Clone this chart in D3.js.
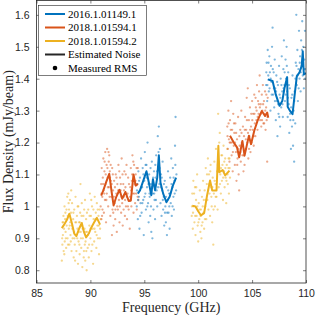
<!DOCTYPE html>
<html>
<head>
<meta charset="utf-8">
<script src="https://cdn.jsdelivr.net/npm/d3@7"></script>
<style>
  body { margin: 0; background: #fff; }
  svg { display: block; }
</style>
</head>
<body>
<div id="chart"></div>
<script>
// ticks
const xTicks = [85, 90, 95, 100, 105, 110];
const yTicks = [0.8, 0.9, 1, 1.1, 1.2, 1.3, 1.4, 1.5, 1.6];
const xTickLabels = ["85", "90", "95", "100", "105", "110"];
const yTickLabels = ["0.8", "0.9", "1", "1.1", "1.2", "1.3", "1.4", "1.5", "1.6"];

const legendNames = ["2016.1.01149.1", "2018.1.01594.1", "2018.1.01594.2"];

// estimated noise lines [GHz, mJy/beam]
const yellowLine1 = [[87.35,0.932],[87.6,0.945],[87.85,0.96],[88.05,0.977],[88.3,0.945],[88.5,0.915],[88.7,0.907],[88.95,0.93],[89.2,0.948],[89.4,0.92],[89.6,0.903],[89.85,0.915],[90.1,0.935],[90.35,0.95],[90.6,0.964],[90.9,0.943]];
const orangeLine1 = [[91.0,1.034],[91.2,1.05],[91.45,1.075],[91.75,1.102],[91.95,1.05],[92.15,1.003],[92.4,1.03],[92.7,1.052],[92.95,1.024],[93.25,1.045],[93.55,1.017],[93.75,1.018],[94.0,1.10],[94.2,1.065],[94.4,1.07]];
const blueLine1 = [[94.4,1.04],[94.6,1.05],[94.9,1.08],[95.2,1.11],[95.45,1.07],[95.65,1.035],[95.8,1.085],[96.0,1.05],[96.2,1.09],[96.35,1.16],[96.5,1.075],[96.75,1.04],[97.05,1.013],[97.35,1.03],[97.65,1.065],[97.95,1.09]];
const yellowLine2 = [[99.45,1.002],[99.75,1.0],[100.0,0.985],[100.25,0.972],[100.55,0.979],[100.8,1.03],[101.1,1.081],[101.3,1.05],[101.7,1.05],[101.87,1.19],[101.96,1.107],[102.27,1.114],[102.5,1.097],[102.9,1.112]];
const orangeLine2 = [[102.95,1.221],[103.3,1.2],[103.6,1.185],[103.8,1.154],[104.1,1.205],[104.3,1.159],[104.7,1.221],[104.9,1.195],[105.2,1.237],[105.5,1.268],[105.9,1.299],[106.2,1.283],[106.4,1.294],[106.5,1.278]];
const blueLine2 = [[106.45,1.398],[106.9,1.393],[107.2,1.35],[107.55,1.315],[107.8,1.33],[108.0,1.37],[108.25,1.405],[108.3,1.312],[108.5,1.3],[108.75,1.289],[108.95,1.35],[109.15,1.408],[109.4,1.42],[109.6,1.44],[109.7,1.486],[109.8,1.413],[110.0,1.418]];

// measured rms points [GHz, mJy/beam]
const yellowPts1 = [[87.35,0.83],[87.4,0.88],[87.42,0.95],[87.45,0.91],[87.5,0.97],[87.52,0.86],[87.55,0.93],[87.6,1.0],[87.62,0.89],[87.65,0.96],[87.7,0.92],[87.75,0.87],[87.78,0.99],[87.8,0.94],[87.85,1.03],[87.88,0.9],[87.9,0.97],[87.95,1.04],[88.0,0.93],[88.02,0.99],[88.05,0.88],[88.1,1.02],[88.12,0.95],[88.15,0.91],[88.2,0.98],[88.25,0.86],[88.28,0.94],[88.3,1.01],[88.35,0.9],[88.4,0.96],[88.45,0.84],[88.48,0.92],[88.5,0.99],[88.55,0.88],[88.6,0.95],[88.62,1.03],[88.65,0.91],[88.7,0.86],[88.75,0.97],[88.8,0.93],[88.85,0.82],[88.88,1.0],[88.9,0.89],[88.95,0.95],[89.0,0.85],[89.05,0.98],[89.08,1.07],[89.1,0.92],[89.15,0.87],[89.2,1.01],[89.22,0.94],[89.25,0.81],[89.3,0.9],[89.35,0.97],[89.4,0.86],[89.45,0.93],[89.5,1.02],[89.52,0.83],[89.55,0.89],[89.6,0.96],[89.65,0.8],[89.7,0.92],[89.75,0.87],[89.8,0.99],[89.85,0.84],[89.9,0.94],[89.95,1.04],[90.0,0.9],[90.05,0.97],[90.1,0.86],[90.15,1.0],[90.2,0.93],[90.25,0.82],[90.3,0.96],[90.35,0.89],[90.4,1.03],[90.45,0.92],[90.5,0.98],[90.55,0.87],[90.6,1.01],[90.65,0.94],[90.7,0.9],[90.75,0.97],[90.8,0.85],[90.85,0.99],[90.9,0.93],[90.95,0.96],
    [87.38,0.9],[87.48,0.95],[87.58,0.85],[87.68,0.98],[87.72,0.9],[87.82,0.96],[87.92,0.88],[87.98,1.01],[88.08,0.94],[88.18,0.89],[88.22,1.05],[88.32,0.93],[88.42,0.98],[88.52,0.9],[88.58,0.83],[88.68,0.95],[88.78,0.9],[88.82,1.0],[88.92,0.92],[88.98,0.88],[89.02,0.95],[89.12,0.9],[89.18,0.97],[89.28,0.93],[89.38,0.84],[89.42,0.99],[89.48,0.88],[89.58,0.92],[89.62,0.86],[89.68,0.98],[89.78,0.91],[89.88,0.88],[89.92,0.97],[90.02,0.93],[90.08,1.02],[90.18,0.88],[90.28,0.99],[90.38,0.93],[90.48,0.96],[90.58,0.91],[90.68,0.99],[90.78,0.94],[90.88,0.9]];
const orangePts1 = [[90.95,1.0],[91.0,1.07],[91.02,0.96],[91.05,1.12],[91.1,1.03],[91.12,0.99],[91.15,1.09],[91.2,1.15],[91.22,1.05],[91.25,0.98],[91.3,1.11],[91.35,1.02],[91.38,1.17],[91.4,1.07],[91.45,0.95],[91.5,1.13],[91.52,1.04],[91.55,1.18],[91.6,1.09],[91.65,1.0],[91.7,1.14],[91.72,1.06],[91.75,1.16],[91.8,1.11],[91.85,0.97],[91.9,1.08],[91.95,1.03],[92.0,0.91],[92.02,1.12],[92.05,0.99],[92.1,1.05],[92.15,0.94],[92.2,1.08],[92.25,1.01],[92.3,0.96],[92.35,1.1],[92.4,1.04],[92.45,0.92],[92.5,1.07],[92.55,0.99],[92.6,1.13],[92.65,1.02],[92.7,0.95],[92.75,1.09],[92.8,1.05],[92.85,0.98],[92.9,1.15],[92.95,1.01],[93.0,0.94],[93.05,1.07],[93.1,1.03],[93.15,1.11],[93.2,0.97],[93.25,1.06],[93.3,1.0],[93.35,1.13],[93.4,0.96],[93.45,1.04],[93.5,1.09],[93.55,0.99],[93.6,1.02],[93.65,0.93],[93.7,1.06],[93.75,1.12],[93.8,1.0],[93.85,1.08],[93.9,1.16],[93.95,1.04],[94.0,0.98],[94.05,1.13],[94.1,1.07],[94.15,1.01],[94.2,1.1],[94.25,1.04],[94.3,0.99],[94.35,1.07],[94.4,1.12],[94.45,1.02],
    [91.03,1.04],[91.08,0.97],[91.18,1.07],[91.28,1.04],[91.32,1.14],[91.42,1.1],[91.48,1.02],[91.58,1.12],[91.62,1.06],[91.68,1.17],[91.78,1.03],[91.82,1.09],[91.88,1.13],[91.98,1.07],[92.08,1.1],[92.12,0.98],[92.18,1.03],[92.28,1.06],[92.32,0.99],[92.42,1.09],[92.48,1.0],[92.58,1.05],[92.68,1.11],[92.72,1.0],[92.82,1.07],[92.88,1.03],[92.98,1.1],[93.08,0.99],[93.12,1.05],[93.22,1.02],[93.28,1.1],[93.38,1.03],[93.48,1.0],[93.58,1.07],[93.68,1.03],[93.78,1.05],[93.88,1.1],[93.98,1.14],[94.08,1.04],[94.18,1.08],[94.28,1.12],[94.38,1.03]];
const bluePts1 = [[94.3,1.0],[94.35,1.07],[94.4,0.96],[94.45,1.11],[94.5,1.03],[94.55,0.93],[94.6,1.09],[94.65,1.01],[94.7,1.15],[94.75,0.98],[94.8,1.06],[94.85,1.12],[94.9,1.02],[94.95,0.91],[95.0,1.08],[95.05,1.17],[95.1,1.04],[95.15,0.99],[95.2,1.13],[95.25,1.06],[95.3,1.2],[95.35,1.01],[95.4,0.95],[95.45,1.1],[95.5,1.03],[95.55,0.97],[95.6,1.07],[95.65,0.92],[95.7,1.14],[95.75,0.9],[95.8,1.04],[95.85,0.99],[95.9,1.11],[95.95,1.02],[96.0,0.96],[96.05,1.09],[96.1,1.16],[96.15,1.05],[96.2,1.0],[96.25,1.22],[96.3,1.12],[96.35,1.25],[96.4,1.07],[96.45,1.18],[96.5,1.01],[96.55,1.1],[96.6,0.97],[96.65,1.05],[96.7,1.14],[96.75,0.99],[96.8,1.03],[96.85,0.94],[96.9,1.08],[96.95,1.0],[97.0,0.95],[97.05,1.06],[97.1,0.91],[97.15,1.02],[97.2,1.11],[97.25,0.98],[97.3,1.04],[97.35,0.93],[97.4,1.09],[97.45,1.01],[97.5,1.15],[97.55,0.97],[97.6,1.06],[97.65,1.12],[97.7,1.03],[97.75,0.99],[97.8,1.08],[97.85,1.19],[97.9,1.28],[97.95,1.05],
    [94.32,1.05],[94.42,1.02],[94.52,1.08],[94.62,0.97],[94.72,1.06],[94.82,1.01],[94.92,1.1],[95.02,1.03],[95.12,1.13],[95.22,1.09],[95.28,1.0],[95.38,1.07],[95.48,1.04],[95.58,1.12],[95.62,1.0],[95.72,1.06],[95.82,1.09],[95.92,1.04],[96.02,1.13],[96.08,1.02],[96.18,1.11],[96.28,1.06],[96.32,1.17],[96.42,1.12],[96.52,1.06],[96.62,1.09],[96.72,1.02],[96.82,1.07],[96.92,0.98],[97.02,1.03],[97.12,0.98],[97.22,1.05],[97.32,1.0],[97.42,1.04],[97.52,1.07],[97.62,1.0],[97.72,1.09],[97.82,1.04],[97.88,1.13],[97.98,1.1]];
const yellowPts2 = [[99.4,0.97],[99.45,1.04],[99.5,0.93],[99.55,1.08],[99.6,1.0],[99.65,0.95],[99.7,1.06],[99.75,0.91],[99.8,1.02],[99.85,0.97],[99.9,1.1],[99.95,0.94],[100.0,0.89],[100.05,1.01],[100.1,0.96],[100.15,1.05],[100.2,0.92],[100.25,0.99],[100.3,0.9],[100.35,1.03],[100.4,0.95],[100.45,1.08],[100.5,0.98],[100.55,0.93],[100.6,1.05],[100.65,1.0],[100.7,1.12],[100.75,0.96],[100.8,1.07],[100.85,1.02],[100.9,1.15],[100.95,0.99],[101.0,1.1],[101.05,1.04],[101.1,0.97],[101.15,1.13],[101.2,1.06],[101.25,1.0],[101.3,0.95],[101.35,1.09],[101.4,0.88],[101.45,1.04],[101.5,1.14],[101.55,1.0],[101.6,1.07],[101.65,1.18],[101.7,1.03],[101.75,1.11],[101.8,0.99],[101.85,1.29],[101.9,1.06],[101.95,1.2],[102.0,1.23],[102.05,1.1],[102.1,1.04],[102.15,1.16],[102.2,1.08],[102.25,1.13],[102.3,1.02],[102.35,1.19],[102.4,1.11],[102.45,1.06],[102.5,1.15],[102.55,1.09],[102.6,1.01],[102.65,1.13],[102.7,1.18],[102.75,1.07],[102.8,1.12],[102.85,1.04],[102.9,1.15],[102.95,1.09],
    [99.42,1.0],[99.52,0.98],[99.62,1.04],[99.72,0.97],[99.82,1.06],[99.92,1.0],[100.02,0.95],[100.12,0.99],[100.22,0.97],[100.32,0.94],[100.42,1.0],[100.52,1.02],[100.62,0.96],[100.72,1.02],[100.82,1.1],[100.92,1.05],[101.02,1.07],[101.12,1.11],[101.22,1.03],[101.32,1.06],[101.42,0.99],[101.52,1.08],[101.62,1.03],[101.72,1.08],[101.82,1.13],[101.92,1.14],[102.02,1.07],[102.12,1.12],[102.22,1.16],[102.32,1.09],[102.42,1.14],[102.52,1.12],[102.62,1.08],[102.72,1.1],[102.82,1.15],[102.92,1.12]];
const orangePts2 = [[102.7,1.25],[102.75,1.18],[102.8,1.3],[102.85,1.21],[102.9,1.14],[102.95,1.27],[103.0,1.2],[103.05,1.33],[103.1,1.16],[103.15,1.24],[103.2,1.11],[103.25,1.29],[103.3,1.19],[103.35,1.23],[103.4,1.13],[103.45,1.26],[103.5,1.17],[103.55,1.08],[103.6,1.21],[103.65,1.15],[103.7,1.28],[103.75,1.1],[103.8,1.05],[103.85,1.19],[103.9,1.24],[103.95,1.14],[104.0,1.3],[104.05,1.2],[104.1,1.16],[104.15,1.25],[104.2,1.11],[104.25,1.22],[104.3,1.13],[104.35,1.28],[104.4,1.18],[104.45,1.24],[104.5,1.34],[104.55,1.2],[104.6,1.37],[104.65,1.15],[104.7,1.27],[104.75,1.22],[104.8,1.31],[104.85,1.17],[104.9,1.25],[104.95,1.2],[105.0,1.33],[105.05,1.24],[105.1,1.29],[105.15,1.19],[105.2,1.35],[105.25,1.26],[105.3,1.22],[105.35,1.31],[105.4,1.27],[105.45,1.38],[105.5,1.24],[105.55,1.33],[105.6,1.29],[105.65,1.36],[105.7,1.41],[105.75,1.27],[105.8,1.32],[105.85,1.25],[105.9,1.35],[105.95,1.3],[106.0,1.38],[106.05,1.26],[106.1,1.33],[106.15,1.29],[106.2,1.36],[106.25,1.24],[106.3,1.31],[106.35,1.27],[106.4,1.14],[106.45,1.34],
    [102.72,1.22],[102.82,1.26],[102.92,1.2],[103.02,1.24],[103.12,1.2],[103.22,1.17],[103.32,1.26],[103.42,1.2],[103.52,1.23],[103.62,1.13],[103.72,1.18],[103.82,1.22],[103.92,1.17],[104.02,1.23],[104.12,1.19],[104.22,1.16],[104.32,1.24],[104.42,1.21],[104.52,1.27],[104.62,1.23],[104.72,1.18],[104.82,1.24],[104.92,1.29],[105.02,1.27],[105.12,1.22],[105.22,1.29],[105.32,1.34],[105.42,1.3],[105.52,1.28],[105.62,1.32],[105.72,1.31],[105.82,1.29],[105.92,1.27],[106.02,1.32],[106.12,1.26],[106.22,1.3],[106.32,1.35],[106.42,1.28]];
const bluePts2 = [[106.3,1.38],[106.35,1.45],[106.4,1.33],[106.45,1.49],[106.5,1.41],[106.55,1.36],[106.6,1.47],[106.65,1.42],[106.7,1.3],[106.75,1.44],[106.8,1.39],[106.85,1.5],[106.9,1.56],[106.95,1.35],[107.0,1.42],[107.05,1.31],[107.1,1.46],[107.15,1.37],[107.2,1.27],[107.25,1.41],[107.3,1.33],[107.35,1.22],[107.4,1.38],[107.45,1.29],[107.5,1.44],[107.55,1.35],[107.6,1.25],[107.65,1.4],[107.7,1.31],[107.75,1.47],[107.8,1.36],[107.85,1.28],[107.9,1.43],[107.95,1.52],[108.0,1.38],[108.05,1.33],[108.1,1.46],[108.15,1.4],[108.2,1.5],[108.25,1.36],[108.3,1.28],[108.35,1.42],[108.4,1.32],[108.45,1.23],[108.5,1.37],[108.55,1.27],[108.6,1.18],[108.65,1.34],[108.7,1.25],[108.75,1.41],[108.8,1.19],[108.85,1.3],[108.9,1.14],[108.95,1.36],[109.0,1.26],[109.05,1.45],[109.1,1.6],[109.15,1.38],[109.2,1.49],[109.25,1.33],[109.3,1.43],[109.35,1.55],[109.4,1.4],[109.45,1.47],[109.5,1.36],[109.55,1.52],[109.6,1.44],[109.65,1.58],[109.7,1.41],[109.75,1.5],[109.8,1.37],[109.85,1.46],[109.9,1.55],[109.95,1.43],
    [106.32,1.42],[106.42,1.38],[106.52,1.45],[106.62,1.37],[106.72,1.4],[106.82,1.35],[106.92,1.43],[107.02,1.37],[107.12,1.33],[107.22,1.36],[107.32,1.39],[107.42,1.32],[107.52,1.28],[107.62,1.34],[107.72,1.38],[107.82,1.32],[107.92,1.37],[108.02,1.42],[108.12,1.35],[108.22,1.44],[108.32,1.34],[108.42,1.38],[108.52,1.29],[108.62,1.31],[108.72,1.35],[108.82,1.27],[108.92,1.33],[109.02,1.4],[109.12,1.44],[109.22,1.41],[109.32,1.37],[109.42,1.45],[109.52,1.42],[109.62,1.49],[109.72,1.45],[109.82,1.43],[109.92,1.4]];

const blue = '#0072BD', orange = '#D95319', yellow = '#EDB120';
const axisColor = '#262626';

const svgWidth = 316, svgHeight = 316;
const plotLeft = 36.5, plotRight = 306, plotTop = 0.5, plotBottom = 283;

const svg = d3.select('#chart').append('svg')
    .attr('width', svgWidth)
    .attr('height', svgHeight);

const xScale = d3.scaleLinear().domain([85, 110]).range([plotLeft, plotRight]);
const yScale = d3.scaleLinear().domain([0.76, 1.645]).range([plotBottom, plotTop]);

// clip so nothing spills past the box
svg.append('clipPath').attr('id', 'clip')
    .append('rect')
    .attr('x', plotLeft).attr('y', plotTop)
    .attr('width', plotRight - plotLeft).attr('height', plotBottom - plotTop);

const plot = svg.append('g').attr('clip-path', 'url(#clip)');

const groups = [
    { pts: yellowPts1, line: yellowLine1, color: yellow },
    { pts: orangePts1, line: orangeLine1, color: orange },
    { pts: bluePts1, line: blueLine1, color: blue },
    { pts: yellowPts2, line: yellowLine2, color: yellow },
    { pts: orangePts2, line: orangeLine2, color: orange },
    { pts: bluePts2, line: blueLine2, color: blue }
];

// scatter first, lines on top
groups.forEach(g => {
    plot.append('g').selectAll('circle')
        .data(g.pts)
        .enter().append('circle')
        .attr('cx', d => xScale(d[0]))
        .attr('cy', d => yScale(d[1]))
        .attr('r', 1.15)
        .attr('fill', g.color)
        .attr('fill-opacity', 0.5);
});

const line = d3.line()
    .x(d => xScale(d[0]))
    .y(d => yScale(d[1]));

groups.forEach(g => {
    plot.append('path')
        .datum(g.line)
        .attr('d', line)
        .attr('fill', 'none')
        .attr('stroke', g.color)
        .attr('stroke-width', 2)
        .attr('stroke-linejoin', 'round');
});

// axes, matlab style: box + inward ticks on all sides
const tickLen = 3;
const styleAxis = (g) => {
    g.select('.domain').remove();
    g.selectAll('.tick line').attr('stroke', axisColor).attr('stroke-width', 0.6);
    g.selectAll('.tick text')
        .attr('fill', axisColor)
        .style('font-family', 'Liberation Sans, Arial, sans-serif')
        .style('font-size', '10.5px');
};

svg.append('g')
    .attr('transform', `translate(0, ${plotBottom})`)
    .call(d3.axisBottom(xScale).tickValues(xTicks).tickSize(-tickLen).tickPadding(7)
        .tickFormat((d, i) => xTickLabels[i]))
    .call(styleAxis);

svg.append('g')
    .attr('transform', `translate(0, ${plotTop})`)
    .call(d3.axisTop(xScale).tickValues(xTicks).tickSize(-tickLen).tickFormat(''))
    .call(styleAxis);

svg.append('g')
    .attr('transform', `translate(${plotLeft}, 0)`)
    .call(d3.axisLeft(yScale).tickValues(yTicks).tickSize(-tickLen).tickPadding(7)
        .tickFormat((d, i) => yTickLabels[i]))
    .call(styleAxis);

svg.append('g')
    .attr('transform', `translate(${plotRight}, 0)`)
    .call(d3.axisRight(yScale).tickValues(yTicks).tickSize(-tickLen).tickFormat(''))
    .call(styleAxis);

svg.append('rect')
    .attr('x', plotLeft).attr('y', plotTop)
    .attr('width', plotRight - plotLeft).attr('height', plotBottom - plotTop)
    .attr('fill', 'none')
    .attr('stroke', axisColor)
    .attr('stroke-width', 0.8);

// axis labels
svg.append('text')
    .attr('x', (plotLeft + plotRight) / 2)
    .attr('y', 312)
    .attr('text-anchor', 'middle')
    .style('font-family', 'Liberation Serif, serif')
    .style('font-size', '14px')
    .attr('fill', axisColor)
    .text('Frequency (GHz)');

svg.append('text')
    .attr('transform', `translate(13, ${(plotTop + plotBottom) / 2}) rotate(-90)`)
    .attr('text-anchor', 'middle')
    .style('font-family', 'Liberation Serif, serif')
    .style('font-size', '14px')
    .attr('fill', axisColor)
    .text('Flux Density (mJy/beam)');

// legend
const legend = svg.append('g');
legend.append('rect')
    .attr('x', 38.5).attr('y', 5.5)
    .attr('width', 108).attr('height', 70)
    .attr('fill', '#fff')
    .attr('stroke', axisColor)
    .attr('stroke-width', 0.6);

const legendItems = [
    { name: legendNames[0], color: blue, kind: 'line' },
    { name: legendNames[1], color: orange, kind: 'line' },
    { name: legendNames[2], color: yellow, kind: 'line' },
    { name: 'Estimated Noise', color: axisColor, kind: 'line' },
    { name: 'Measured RMS', color: '#000', kind: 'dot' }
];
const rowY = d3.scaleLinear().domain([0, 4]).range([14, 68]);

legendItems.forEach((item, i) => {
    const y = rowY(i);
    if (item.kind === 'line') {
        legend.append('line')
            .attr('x1', 45).attr('x2', 65)
            .attr('y1', y).attr('y2', y)
            .attr('stroke', item.color)
            .attr('stroke-width', 2);
    } else {
        legend.append('circle')
            .attr('cx', 55).attr('cy', y).attr('r', 2.3)
            .attr('fill', item.color);
    }
    legend.append('text')
        .attr('x', 68).attr('y', y + 3.8)
        .style('font-family', 'Liberation Serif, serif')
        .style('font-size', '11px')
        .attr('fill', '#000')
        .text(item.name);
});
</script>
</body>
</html>
